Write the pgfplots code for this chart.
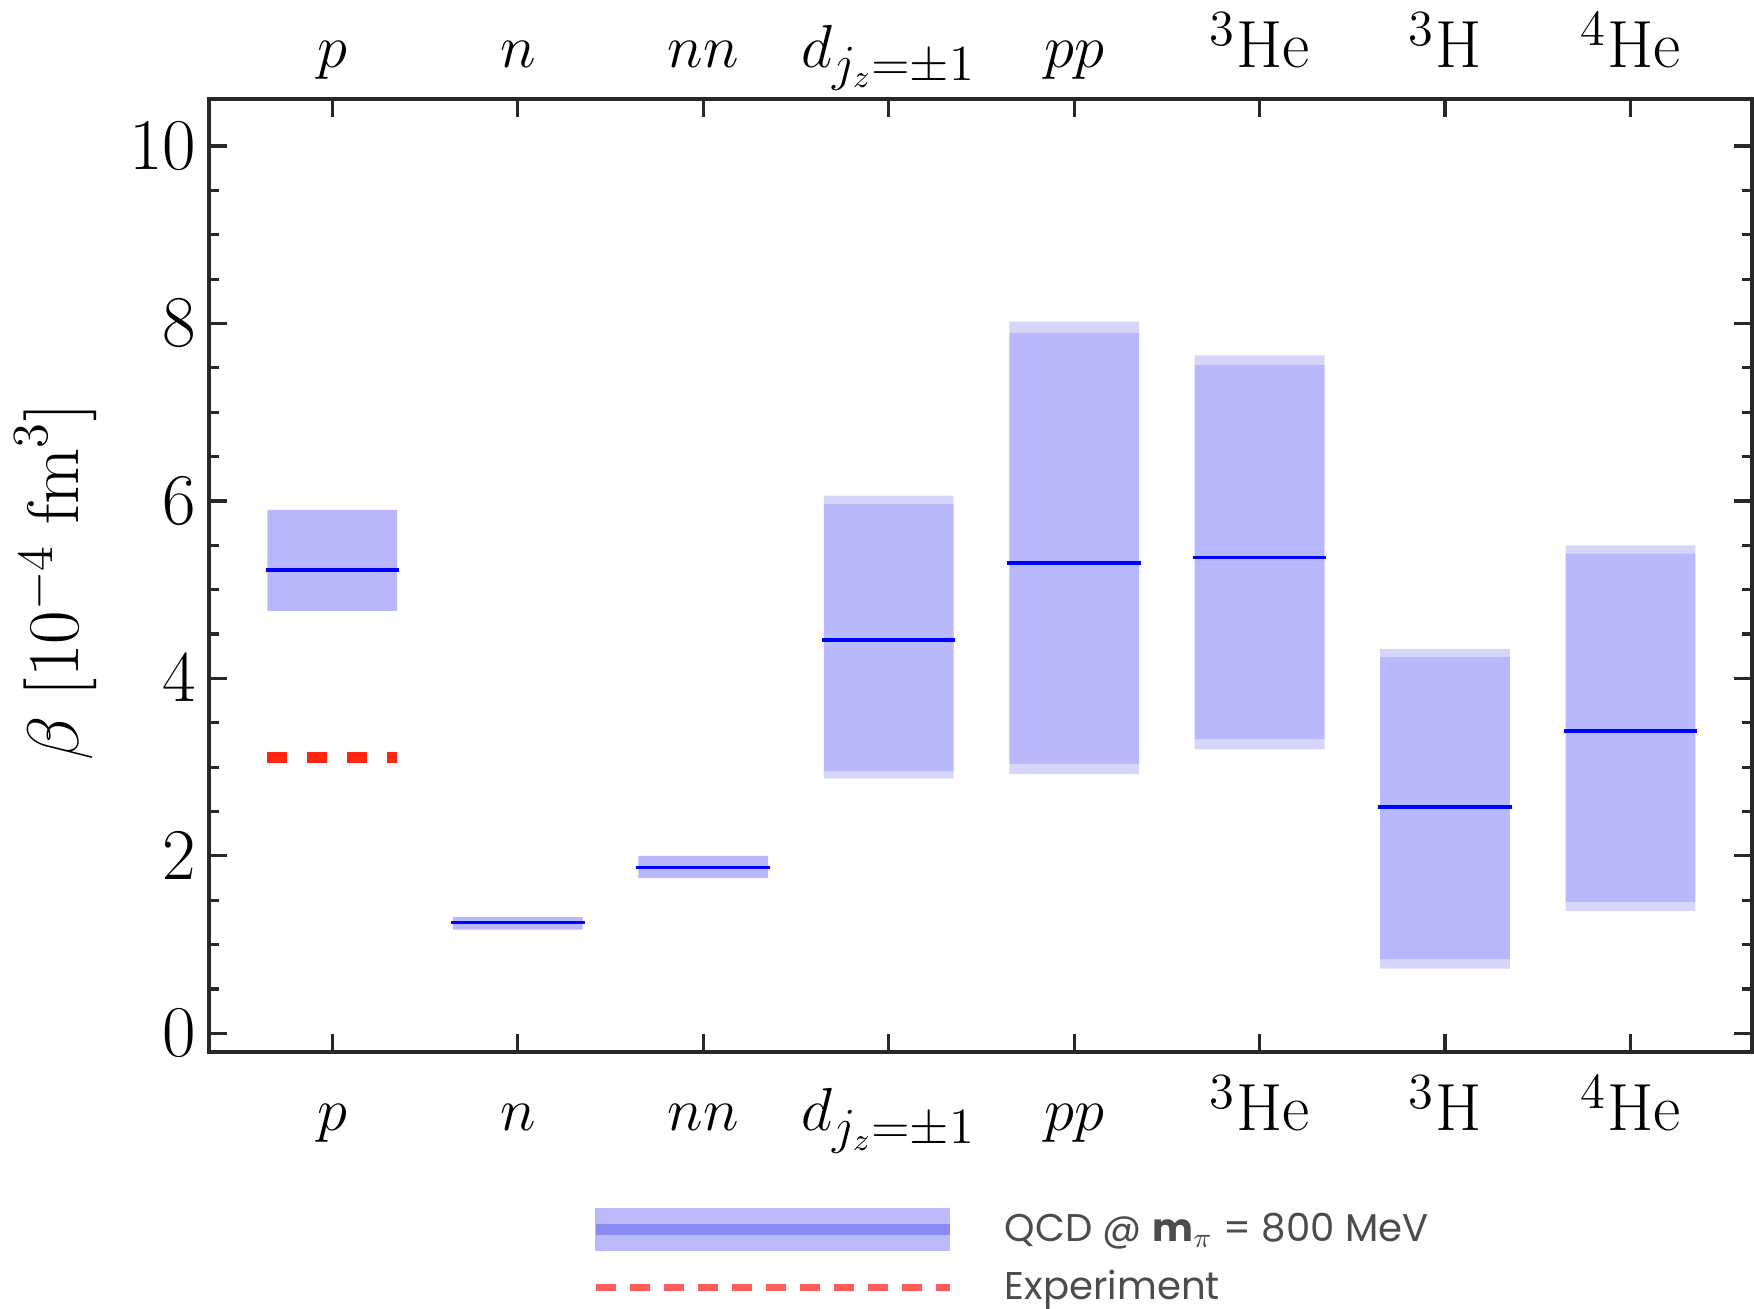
\documentclass[border=0pt]{standalone}
\usepackage{fontspec}
\newfontfamily\legendfont{Poppins}
\usepackage{pgfplots}
\usepackage{pgfplotstable}
\pgfplotsset{compat=1.18}

\definecolor{qin}{RGB}{184,184,252}
\definecolor{qout}{RGB}{214,214,250}
\definecolor{qleg}{RGB}{186,186,252}
\definecolor{qlegline}{RGB}{138,138,245}
\definecolor{expred}{RGB}{255,38,20}
\definecolor{explegred}{RGB}{255,92,92}
\definecolor{axgray}{RGB}{40,40,40}

% x: category index; olo/ohi: outer band; ilo/ihi: inner band; c: central value
\pgfplotstableread{
x olo  ilo   c    ihi  ohi
0 4.76 4.76  5.22 5.90 5.90
1 1.17 1.17  1.25 1.31 1.31
2 1.75 1.75  1.87 2.00 2.00
3 2.87 2.95  4.43 5.97 6.06
4 2.92 3.035 5.30 7.89 8.02
5 3.20 3.31  5.36 7.53 7.64
6 0.73 0.83  2.55 4.24 4.33
7 1.38 1.48  3.41 5.41 5.50
}\qcd

\pgfplotsset{
  qcdleg/.style={legend image code/.code={
      \fill[qleg] (0cm,-0.21cm) rectangle (3.54cm,0.21cm);
      \draw[qlegline, line width=3pt] (0cm,0cm) -- (3.54cm,0cm);}},
  expleg/.style={legend image code/.code={
      \draw[explegred, line width=2pt, dash pattern=on 0.2cm off 0.14cm] (0cm,0cm) -- (3.54cm,0cm);}},
  common/.style={
    scale only axis, width=15.43cm, height=9.53cm,
    xmin=-0.665, xmax=7.655, ymin=-0.21, ymax=10.53,
    xtick={0,...,7},
    xticklabels={$p$,$n$,$nn$,{$d_{j_z=\pm1}$},$pp$,{$^3\mathrm{He}$},{$^3\mathrm{H}$},{$^4\mathrm{He}$}},
    xticklabel style={font=\fontsize{19}{22}\selectfont, anchor=base, inner sep=0pt},
  },
}

\begin{document}
\begin{tikzpicture}
\begin{axis}[common, name=main,
  ybar stacked, bar width=0.7,
  ytick={0,2,...,10}, minor y tick num=3,
  tick align=inside,
  major tick length=0.18cm, minor tick length=0.1cm,
  axis line style={axgray, line width=0.9pt},
  every tick/.style={axgray, line width=0.9pt},
  xticklabel style={yshift=-0.79cm},
  yticklabel style={font=\fontsize{20.74}{24}\selectfont, anchor=east, inner sep=0pt, xshift=-0.12cm},
  ylabel={$\beta\;[10^{-4}\;\mathrm{fm}^3]$},
  every axis y label/.style={at={(axis description cs:-0.0992,0.493)}, rotate=90, anchor=center, font=\fontsize{20.74}{24}\selectfont},
]
\addplot[draw=none, fill=none] table[x=x, y=olo] {\qcd};
\addplot[draw=none, fill=qout] table[x=x, y expr=\thisrow{ilo}-\thisrow{olo}] {\qcd};
\addplot[draw=none, fill=qin] table[x=x, y expr=\thisrow{ihi}-\thisrow{ilo}] {\qcd};
\addplot[draw=none, fill=qout] table[x=x, y expr=\thisrow{ohi}-\thisrow{ihi}] {\qcd};
\end{axis}

\begin{axis}[common,
  axis line style={draw=none},
  xticklabel pos=right,
  xtick style={draw=none},
  ytick=\empty,
  xticklabel style={yshift=0.31cm},
  legend style={at={(axis description cs:0.2472,-0.1637)}, anchor=north west,
    draw=none, fill=none, inner sep=0pt, outer sep=0pt,
    row sep=0.19cm, column sep=0.5cm,
    font=\legendfont\fontsize{11}{13}\selectfont, text=black!70,
    nodes={inner sep=0pt}},
  legend cell align=left,
]
\addplot[forget plot, draw=none, mark=none,
  error bars/.cd, x dir=both, x fixed=0.36, error mark=none,
  error bar style={draw=blue, solid, line width=1pt}] table[x=x, y=c] {\qcd};
\addplot[forget plot, expred, mark=none, line width=3pt, dash pattern=on 0.2cm off 0.2cm]
  coordinates {(-0.35,3.11) (0.35,3.11)};
\addlegendimage{qcdleg}
\addlegendentry{QCD @ \textbf{m}$_{\pi}$ = 800 MeV}
\addlegendimage{expleg}
\addlegendentry{Experiment}
\end{axis}

\path (main.south west) ++(-2.09cm,-2.57cm);
\path (main.north east) ++(0.02cm,0.99cm);
\end{tikzpicture}
\end{document}
